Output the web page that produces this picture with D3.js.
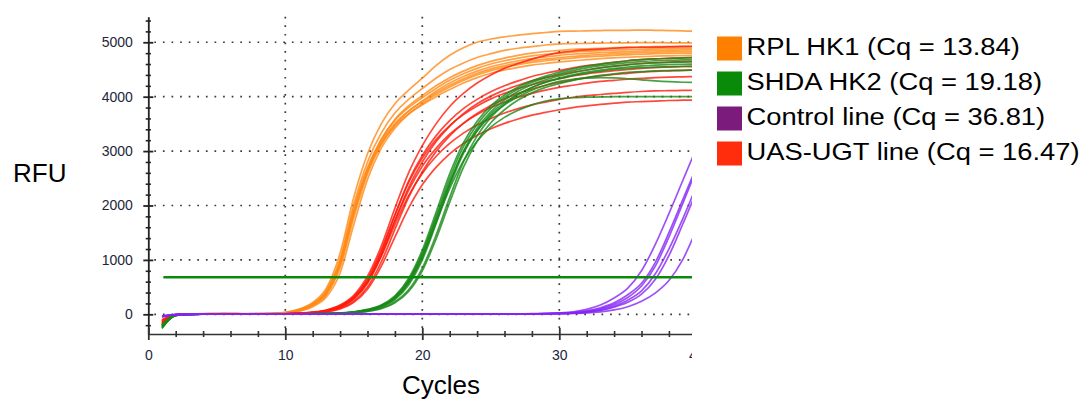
<!DOCTYPE html>
<html>
<head>
<meta charset="utf-8">
<script src="https://cdn.jsdelivr.net/npm/d3@7"></script>
<style>
  body { margin: 0; background: #fff; }
  svg { display: block; font-family: "Liberation Sans", Arial, sans-serif; }
</style>
</head>
<body>
<svg id="chart" width="1082" height="400"></svg>
<script>
// qPCR amplification curves: RFU per cycle for each well, grouped by target.
const cycles = [1,2,3,4,5,6,7,8,9,10,11,12,13,14,15,16,17,18,19,20,
                21,22,23,24,25,26,27,28,29,30,31,32,33,34,35,36,37,38,39,40];

const rplCurves = [
  [-120,-10,5,10,10,15,10,10,15,35,95,220,480,1120,2150,2950,3500,3870,4120,4340,4570,4760,4900,5000,5060,5100,5130,5160,5180,5200,5205,5210,5215,5220,5220,5225,5220,5215,5210,5200],
  [-140,-15,0,10,12,10,8,12,15,30,85,200,440,1020,2020,2800,3330,3700,3950,4150,4340,4500,4620,4720,4790,4850,4890,4920,4950,4970,4975,4980,4985,4990,4990,4995,4995,4990,4990,4990],
  [-150,-20,5,8,10,12,10,10,12,25,70,170,380,900,1850,2650,3200,3580,3830,4020,4200,4350,4470,4570,4650,4710,4760,4800,4830,4850,4870,4880,4890,4900,4910,4915,4920,4925,4930,4930],
  [-110,-8,8,10,14,12,12,10,15,30,80,185,420,980,1950,2700,3220,3570,3800,3980,4150,4300,4420,4520,4600,4660,4710,4750,4780,4800,4820,4835,4845,4855,4865,4870,4880,4885,4890,4890],
  [-160,-18,2,6,10,10,8,10,12,22,65,160,360,860,1780,2580,3120,3480,3730,3920,4100,4250,4370,4470,4550,4610,4660,4700,4730,4760,4780,4795,4810,4820,4830,4840,4850,4855,4860,4860],
  [-130,-12,5,12,12,10,10,12,14,28,75,180,400,950,1900,2660,3170,3510,3740,3910,4070,4210,4330,4430,4510,4570,4620,4660,4690,4720,4740,4760,4775,4790,4800,4810,4820,4825,4830,4830],
  [-170,-22,0,6,8,10,8,8,10,20,55,140,320,760,1650,2480,3050,3420,3680,3870,4040,4180,4300,4400,4480,4540,4590,4630,4660,4690,4710,4730,4745,4760,4770,4780,4790,4795,4800,4800],
  [-125,-14,6,10,10,12,10,12,12,25,70,170,390,920,1860,2620,3130,3460,3680,3850,4000,4130,4250,4350,4430,4490,4540,4580,4610,4640,4660,4680,4700,4715,4725,4735,4745,4750,4755,4760]
];

const uasCurves = [
  [-180,-10,0,5,10,8,5,5,8,10,20,40,80,170,350,700,1250,1950,2600,3100,3500,3820,4060,4250,4400,4520,4610,4690,4760,4810,4840,4860,4875,4890,4900,4905,4910,4915,4920,4920],
  [-200,-15,2,6,8,8,6,6,8,10,18,35,70,150,310,620,1150,1820,2450,2920,3280,3560,3780,3950,4090,4200,4290,4370,4430,4480,4530,4570,4600,4630,4660,4680,4695,4705,4715,4720],
  [-150,-8,4,6,8,6,5,6,6,8,15,30,60,130,280,570,1080,1720,2330,2800,3170,3460,3690,3870,4010,4120,4210,4290,4350,4400,4450,4490,4530,4560,4590,4610,4625,4635,4645,4650],
  [-220,-20,0,4,6,8,6,6,8,10,20,38,75,160,330,650,1180,1830,2420,2870,3210,3470,3670,3830,3960,4060,4150,4220,4280,4330,4380,4420,4450,4480,4500,4520,4535,4545,4555,4560],
  [-120,-6,4,6,6,6,4,4,5,6,12,25,50,110,240,500,960,1560,2150,2620,2990,3280,3510,3690,3840,3960,4060,4140,4210,4260,4310,4350,4380,4410,4430,4450,4465,4475,4485,4490],
  [-190,-12,2,5,8,6,6,6,7,8,16,32,65,140,300,600,1100,1720,2280,2720,3050,3310,3510,3670,3800,3900,3990,4060,4120,4170,4210,4250,4280,4300,4320,4335,4350,4360,4365,4370],
  [-160,-10,3,6,6,6,5,6,7,8,15,30,62,135,290,580,1060,1650,2180,2590,2900,3140,3330,3480,3600,3700,3780,3850,3900,3950,3990,4020,4040,4060,4080,4095,4105,4110,4115,4120],
  [-100,-5,4,5,5,4,4,4,4,5,10,22,45,100,220,460,880,1420,1950,2380,2700,2950,3140,3290,3410,3510,3590,3660,3710,3760,3800,3830,3860,3880,3900,3910,3920,3930,3935,3940]
];

const shdaCurves = [
  [-250,-20,0,5,8,5,5,3,5,5,8,10,15,25,45,90,170,340,660,1180,1870,2580,3150,3550,3830,4030,4180,4290,4380,4450,4510,4560,4600,4630,4660,4680,4695,4705,4715,4720],
  [-230,-18,2,6,6,5,4,4,5,6,8,11,15,22,42,85,160,320,630,1130,1800,2500,3080,3490,3780,3990,4140,4260,4350,4420,4480,4530,4570,4600,4625,4645,4660,4670,4675,4680],
  [-200,-15,0,4,6,5,4,3,4,5,7,10,13,20,38,75,145,290,570,1040,1700,2400,3000,3420,3720,3940,4100,4220,4310,4380,4440,4490,4530,4560,4585,4605,4620,4630,4635,4640],
  [-260,-22,-2,3,5,4,3,3,4,4,6,8,11,15,30,60,115,230,450,850,1450,2150,2800,3280,3620,3860,4040,4170,4270,4340,4400,4450,4490,4520,4545,4565,4580,4590,4595,4600],
  [-210,-16,1,5,6,5,4,4,5,5,7,9,13,18,35,70,135,270,540,1000,1660,2360,2960,3380,3680,3890,4050,4170,4260,4330,4390,4430,4470,4500,4520,4535,4545,4550,4555,4560],
  [-240,-20,-1,3,5,4,3,3,4,4,5,7,10,14,28,55,105,210,420,800,1380,2060,2700,3180,3520,3760,3940,4070,4170,4240,4300,4350,4390,4420,4445,4460,4475,4480,4485,4490],
  [-220,-18,0,5,6,5,5,4,5,6,8,11,15,20,40,80,155,310,610,1100,1760,2430,2980,3370,3650,3850,4000,4120,4210,4280,4320,4340,4350,4345,4330,4310,4290,4275,4265,4260],
  [-190,-14,2,5,6,5,5,4,5,6,8,11,15,20,40,78,150,300,590,1060,1690,2310,2820,3180,3440,3620,3750,3850,3920,3960,3980,3990,3995,4000,4000,4000,4000,4000,4000,4000]
];

const controlCurves = [
  [-40,-5,0,2,3,3,2,2,3,3,2,2,3,3,2,2,3,3,3,2,3,3,3,4,5,6,8,11,16,25,45,90,170,300,480,800,1280,1850,2450,3050],
  [-30,-4,0,2,2,3,2,2,2,3,2,2,2,3,2,2,2,3,2,2,3,3,3,3,4,5,6,9,13,20,32,62,120,210,360,570,950,1500,2100,2700],
  [-45,-6,-1,1,2,2,2,1,2,2,2,2,2,2,2,1,2,2,2,2,2,3,3,3,4,4,5,8,11,17,27,52,100,180,310,520,880,1420,2030,2650],
  [-35,-5,0,2,3,2,2,2,3,2,2,2,3,2,2,2,2,3,2,2,2,3,3,3,3,4,5,7,10,14,22,42,80,150,260,430,740,1200,1750,2350],
  [-50,-7,-1,1,2,2,1,1,2,2,1,2,2,2,1,1,2,2,2,1,2,2,2,3,3,4,5,6,9,13,20,36,70,130,220,370,640,1080,1650,2250],
  [-38,-5,0,2,2,2,2,2,2,2,2,2,2,2,2,2,2,2,2,2,2,2,2,3,3,3,4,5,7,10,15,25,45,80,140,240,390,620,1000,1550]
];

// Cq threshold and the cycle where the threshold line begins
const thresholdRFU = 680;
const thresholdStart = 1.1;

const legendLabels = [
  "RPL HK1 (Cq = 13.84)",
  "SHDA HK2 (Cq = 19.18)",
  "Control line (Cq = 36.81)",
  "UAS-UGT line (Cq = 16.47)"
];
const legendColors = ["#ff8000", "#098b09", "#7b1b7b", "#ff2d0b"];

const yTicks = [0, 1000, 2000, 3000, 4000, 5000];
const xTicks = [0, 10, 20, 30, 40];
const xGridTicks = [10, 20, 30, 40];

// ---- layout ----
const svg = d3.select("#chart");
const x = d3.scaleLinear().domain([0, 40]).range([148.3, 696.3]);
const y = d3.scaleLinear().domain([-362, 5470]).range([334, 16.7]);
const plotRight = 692;

svg.append("defs").append("clipPath").attr("id", "plotClip")
  .append("rect").attr("x", 0).attr("y", 0).attr("width", plotRight).attr("height", 400);

const chart = svg.append("g").attr("clip-path", "url(#plotClip)");

// dotted grid
const grid = chart.append("g")
  .attr("stroke", "#3a3a3a").attr("stroke-width", 1.7)
  .attr("stroke-dasharray", "1.7 6.9").attr("fill", "none");
grid.selectAll("line.h").data(yTicks).join("line").attr("class", "h")
  .attr("x1", x(0) + 6).attr("x2", plotRight)
  .attr("y1", d => y(d)).attr("y2", d => y(d));
grid.selectAll("line.v").data(xGridTicks).join("line").attr("class", "v")
  .attr("x1", d => x(d)).attr("x2", d => x(d))
  .attr("y1", y.range()[1]).attr("y2", y(-362));

// amplification curves
const line = d3.line()
  .x((d, i) => x(cycles[i]))
  .y(d => y(d))
  .curve(d3.curveMonotoneX);

const groups = [
  { curves: rplCurves, color: "#ff8a16" },
  { curves: uasCurves, color: "#ff1a0a" },
  { curves: shdaCurves, color: "#168a16" },
  { curves: controlCurves, color: "#8526f5" }
];
groups.forEach(g => {
  chart.append("g").selectAll("path").data(g.curves).join("path")
    .attr("d", line)
    .attr("fill", "none")
    .attr("stroke", g.color)
    .attr("stroke-width", 1.7)
    .attr("stroke-opacity", 0.8);
});

// threshold line
chart.append("line")
  .attr("x1", x(thresholdStart)).attr("x2", plotRight)
  .attr("y1", y(thresholdRFU)).attr("y2", y(thresholdRFU))
  .attr("stroke", "#0a8a0a").attr("stroke-width", 2.6);

// y axis
const yMinor = d3.range(-200, 5401, 200).filter(v => v % 1000 !== 0);
const yAxisG = chart.append("g").attr("transform", `translate(${x(0)},0)`);
yAxisG.call(d3.axisLeft(y).tickValues(yMinor).tickFormat("").tickSize(2.6).tickSizeOuter(0));
yAxisG.selectAll(".tick line").attr("x1", -2.6).attr("x2", 2.6);
yAxisG.call(g => g.select(".domain").remove());
const yAxisMajor = chart.append("g").attr("transform", `translate(${x(0)},0)`)
  .call(d3.axisLeft(y).tickValues(yTicks).tickFormat(d3.format("d"))
    .tickSize(5).tickPadding(10.5).tickSizeOuter(0));
yAxisMajor.selectAll(".tick line").attr("x1", -5).attr("x2", 5);
yAxisMajor.selectAll("text").attr("font-size", 14).attr("fill", "#22263a")
  .attr("font-family", "'Liberation Sans', Arial, sans-serif");
yAxisMajor.select(".domain").attr("stroke-width", 1.8);
yAxisG.selectAll("line").attr("stroke", "#222").attr("stroke-width", 1.6);
yAxisMajor.selectAll(".tick line").attr("stroke", "#222").attr("stroke-width", 1.8);
yAxisMajor.select(".domain").attr("stroke", "#222");

// x axis
const xMinor = d3.range(2, 41, 2).filter(v => v % 10 !== 0);
const xAxisMinor = chart.append("g").attr("transform", `translate(0,${y(-362)})`)
  .call(d3.axisBottom(x).tickValues(xMinor).tickFormat("").tickSize(3).tickSizeOuter(0));
xAxisMinor.selectAll(".tick line").attr("y1", -3).attr("y2", 3).attr("stroke", "#333").attr("stroke-width", 1.6);
xAxisMinor.select(".domain").remove();
const xAxisMajor = chart.append("g").attr("transform", `translate(0,${y(-362)})`)
  .call(d3.axisBottom(x).tickValues(xTicks).tickFormat(d3.format("d"))
    .tickSize(6).tickPadding(10).tickSizeOuter(0));
xAxisMajor.selectAll(".tick line").attr("y1", -6).attr("y2", 6).attr("stroke", "#333").attr("stroke-width", 1.8);
xAxisMajor.select(".domain").attr("stroke", "#333").attr("stroke-width", 1.7);
xAxisMajor.selectAll("text").attr("font-size", 14).attr("fill", "#22263a")
  .attr("font-family", "'Liberation Sans', Arial, sans-serif");

// axis titles
svg.append("text").attr("x", 13).attr("y", 181.5)
  .attr("font-size", 26).attr("fill", "#000").text("RFU");
svg.append("text").attr("x", 441).attr("y", 394).attr("text-anchor", "middle")
  .attr("font-size", 26).attr("fill", "#000").text("Cycles");

// legend
const legend = svg.append("g");
const rowY = d3.scaleLinear().domain([0, 3]).range([36.5, 141.5]);
const rows = legend.selectAll("g").data(legendLabels).join("g")
  .attr("transform", (d, i) => `translate(717,${rowY(i)})`);
rows.append("rect").attr("width", 25).attr("height", 24)
  .attr("fill", (d, i) => legendColors[i]);
rows.append("text")
  .attr("transform", "translate(29.5,18) scale(1.14,1)")
  .attr("font-size", 24).attr("fill", "#000")
  .text(d => d);
</script>
</body>
</html>
